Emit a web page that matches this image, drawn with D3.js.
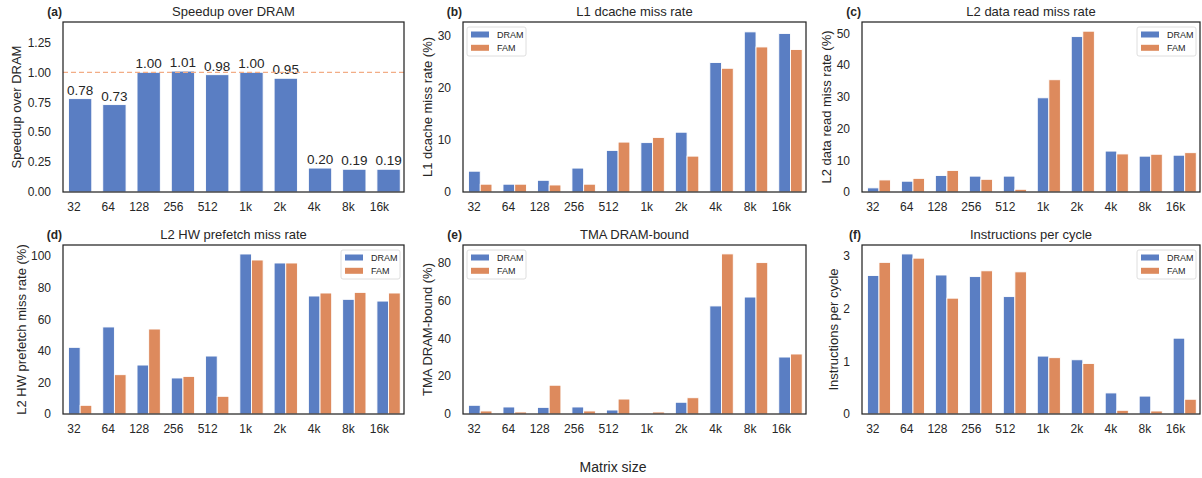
<!DOCTYPE html>
<html>
<head>
<meta charset="utf-8">
<script src="https://cdn.jsdelivr.net/npm/d3@7"></script>
<style>
  body { margin: 0; background: #fff; }
  svg { display: block; font-family: "Liberation Sans", Arial, sans-serif; }
</style>
</head>
<body>
<svg id="chart" width="1202" height="478"></svg>
<script>
// matrix sizes on the x axis
const sizes = ["32", "64", "128", "256", "512", "1k", "2k", "4k", "8k", "16k"];

// (a) speedup
const speedup = [0.78, 0.73, 1.00, 1.01, 0.98, 1.00, 0.95, 0.20, 0.19, 0.19];
// (b) L1 dcache miss rate (%)
const l1Dram = [4.0, 1.5, 2.25, 4.6, 8.0, 9.5, 11.5, 24.9, 30.8, 30.5];
const l1Fam  = [1.5, 1.5, 1.35, 1.5, 9.6, 10.5, 6.9, 23.8, 27.9, 27.4];
// (c) L2 data read miss rate (%)
const l2Dram = [1.3, 3.4, 5.2, 5.0, 5.0, 29.7, 49.0, 12.9, 11.3, 11.6];
const l2Fam  = [3.8, 4.3, 6.8, 4.0, 0.85, 35.4, 50.7, 12.0, 11.9, 12.4];
// (d) L2 HW prefetch miss rate (%)
const pfDram = [42.2, 55.1, 31.0, 22.8, 36.7, 101.3, 95.6, 74.7, 72.6, 71.5];
const pfFam  = [5.5, 24.9, 53.8, 23.8, 11.2, 97.5, 95.6, 76.6, 77.0, 76.6];
// (e) TMA DRAM-bound (%)
const tmaDram = [4.6, 3.7, 3.5, 3.7, 2.1, 0.5, 6.2, 57.1, 61.8, 30.1];
const tmaFam  = [1.6, 1.06, 15.2, 1.6, 7.9, 1.06, 8.6, 84.6, 80.0, 31.7];
// (f) instructions per cycle
const ipcDram = [2.63, 3.04, 2.64, 2.61, 2.23, 1.10, 1.03, 0.40, 0.34, 1.44];
const ipcFam  = [2.88, 2.96, 2.20, 2.72, 2.70, 1.07, 0.96, 0.07, 0.057, 0.28];

// tick values
const speedupTicks = [0, 0.25, 0.5, 0.75, 1.0, 1.25];
const l1Ticks = [0, 10, 20, 30];
const l2Ticks = [0, 10, 20, 30, 40, 50];
const pfTicks = [0, 20, 40, 60, 80, 100];
const tmaTicks = [0, 20, 40, 60, 80];
const ipcTicks = [0, 1, 2, 3];

const seriesNames = ["DRAM", "FAM"];
const colors = ["#5a7ec3", "#dd8a5d"];
const textColor = "#262626";

const panels = [
  { tag: "(a)", title: "Speedup over DRAM", ylabel: "Speedup over DRAM", series: [speedup], ticks: speedupTicks, fmt: d3.format(".2f"), ymax: 1.42, labels: true, ref: 1.0 },
  { tag: "(b)", title: "L1 dcache miss rate", ylabel: "L1 dcache miss rate (%)", series: [l1Dram, l1Fam], ticks: l1Ticks, fmt: d3.format("d"), ymax: 32.7, legend: "left" },
  { tag: "(c)", title: "L2 data read miss rate", ylabel: "L2 data read miss rate (%)", series: [l2Dram, l2Fam], ticks: l2Ticks, fmt: d3.format("d"), ymax: 53.6, legend: "right" },
  { tag: "(d)", title: "L2 HW prefetch miss rate", ylabel: "L2 HW prefetch miss rate (%)", series: [pfDram, pfFam], ticks: pfTicks, fmt: d3.format("d"), ymax: 107, legend: "right" },
  { tag: "(e)", title: "TMA DRAM-bound", ylabel: "TMA DRAM-bound (%)", series: [tmaDram, tmaFam], ticks: tmaTicks, fmt: d3.format("d"), ymax: 89.3, legend: "left" },
  { tag: "(f)", title: "Instructions per cycle", ylabel: "Instructions per cycle", series: [ipcDram, ipcFam], ticks: ipcTicks, fmt: d3.format("d"), ymax: 3.21, legend: "right" }
];

// layout of the 2x3 grid
const cols = [{ left: 63, right: 404 }, { left: 463, right: 806 }, { left: 862, right: 1200 }];
const rows = [{ top: 22, bottom: 192 }, { top: 245, bottom: 414 }];
const ylabelX = [16, 427, 826, 21, 427, 833];

const svg = d3.select("#chart");

panels.forEach((p, idx) => {
  const c = cols[idx % 3], r = rows[Math.floor(idx / 3)];
  const g = svg.append("g");

  const x = d3.scaleLinear().domain([-0.5, sizes.length - 0.55]).range([c.left, c.right]);
  const step = x(1) - x(0);
  const y = d3.scaleLinear().domain([0, p.ymax]).range([r.bottom, r.top]);

  // bars
  const nSeries = p.series.length;
  const groupW = step * 0.68;
  const barW = groupW / nSeries;
  p.series.forEach((vals, s) => {
    g.selectAll(null)
      .data(vals)
      .enter()
      .append("rect")
      .attr("x", (d, i) => x(i) - groupW / 2 + s * barW)
      .attr("y", d => y(d))
      .attr("width", barW)
      .attr("height", d => r.bottom - y(d))
      .attr("fill", colors[s])
      .attr("stroke", "#fff")
      .attr("stroke-width", 0.9);
  });

  // value labels (panel a)
  if (p.labels) {
    g.selectAll(null)
      .data(p.series[0])
      .enter()
      .append("text")
      .attr("x", (d, i) => x(i))
      .attr("y", d => y(d) - 4)
      .attr("text-anchor", "middle")
      .attr("font-size", 13.5)
      .attr("fill", textColor)
      .text(d => d3.format(".2f")(d));
  }

  // reference line
  if (p.ref !== undefined) {
    g.append("line")
      .attr("x1", c.left).attr("x2", c.right)
      .attr("y1", y(p.ref)).attr("y2", y(p.ref))
      .attr("stroke", "#f2ad86")
      .attr("stroke-width", 1.2)
      .attr("stroke-dasharray", "5,3");
  }

  // y axis
  const yAxis = d3.axisLeft(y).tickValues(p.ticks).tickFormat(p.fmt).tickSize(0).tickPadding(12);
  const ya = g.append("g").attr("transform", `translate(${c.left},0)`).call(yAxis);
  ya.select(".domain").remove();
  ya.selectAll("text").attr("font-size", 12).attr("fill", textColor).attr("font-family", null);

  // x axis, labels right-aligned to bar centres
  const xa = g.append("g").attr("transform", `translate(0,${r.bottom})`)
    .call(d3.axisBottom(x).tickValues(d3.range(sizes.length)).tickFormat(i => sizes[i]).tickSize(0).tickPadding(10));
  xa.select(".domain").remove();
  xa.selectAll("text")
    .attr("font-size", 12)
    .attr("fill", textColor)
    .attr("font-family", null)
    .attr("text-anchor", "end")
    .attr("dy", "0.71em");

  // frame
  g.append("rect")
    .attr("x", c.left).attr("y", r.top)
    .attr("width", c.right - c.left).attr("height", r.bottom - r.top)
    .attr("fill", "none")
    .attr("stroke", textColor)
    .attr("stroke-width", 1.25);

  // titles
  g.append("text")
    .attr("x", (c.left + c.right) / 2).attr("y", r.top - 6)
    .attr("text-anchor", "middle")
    .attr("font-size", 13)
    .attr("fill", textColor)
    .text(p.title);
  g.append("text")
    .attr("x", c.left - 1).attr("y", r.top - 6)
    .attr("text-anchor", "end")
    .attr("font-size", 12)
    .attr("font-weight", "bold")
    .attr("fill", textColor)
    .text(p.tag);

  g.append("text")
    .attr("transform", `translate(${ylabelX[idx]},${(r.top + r.bottom) / 2}) rotate(-90)`)
    .attr("text-anchor", "middle")
    .attr("dy", "0.35em")
    .attr("font-size", 13)
    .attr("fill", textColor)
    .text(p.ylabel);

  // legend
  if (p.legend) {
    const boxW = 59, boxH = 29;
    const lx = p.legend === "left" ? c.left + 4 : c.right - 4 - boxW;
    const ly = r.top + 5;
    const lg = g.append("g").attr("transform", `translate(${lx},${ly})`);
    lg.append("rect")
      .attr("width", boxW).attr("height", boxH)
      .attr("rx", 2)
      .attr("fill", "#fff")
      .attr("fill-opacity", 0.8)
      .attr("stroke", "#d6d6d6")
      .attr("stroke-width", 0.8);
    seriesNames.forEach((name, s) => {
      const cy = 7.5 + s * 13.3;
      lg.append("rect")
        .attr("x", 4).attr("y", cy - 3)
        .attr("width", 18).attr("height", 6)
        .attr("fill", colors[s]);
      lg.append("text")
        .attr("x", 30).attr("y", cy)
        .attr("dy", "0.35em")
        .attr("font-size", 9)
        .attr("fill", textColor)
        .text(name);
    });
  }
});

svg.append("text")
  .attr("x", 613).attr("y", 472)
  .attr("text-anchor", "middle")
  .attr("font-size", 14)
  .attr("fill", textColor)
  .text("Matrix size");
</script>
</body>
</html>
